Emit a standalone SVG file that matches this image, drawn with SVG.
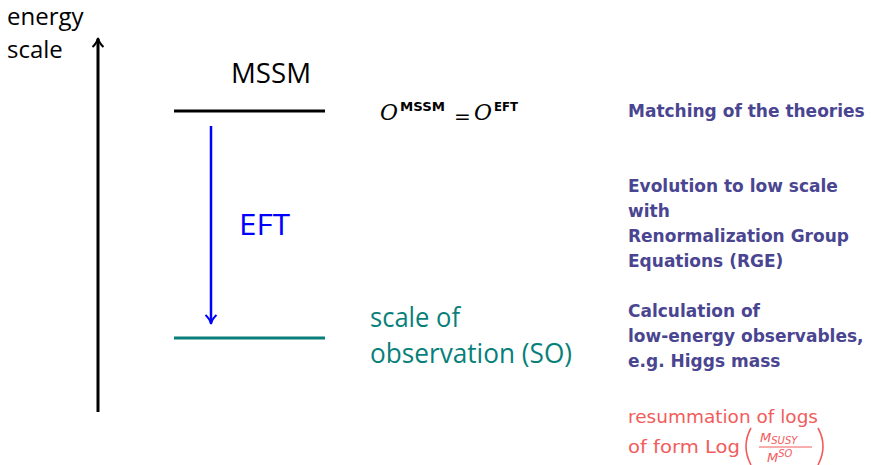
<svg xmlns="http://www.w3.org/2000/svg" width="871" height="465" viewBox="0 0 871 465">
<defs>
<style>
svg{font-family:"Open Sans","Liberation Sans",sans-serif}
.note{font-family:"DejaVu Sans",sans-serif;font-weight:bold;font-size:17px;fill:#4a4590}
.red{font-family:"DejaVu Sans",sans-serif;font-size:18px;fill:#f25c5c}
.teal{fill:#087f7a;font-size:27px}
.sup{font-family:"DejaVu Sans",sans-serif;font-weight:bold;font-size:13px;fill:#000}
.mo{font-family:"DejaVu Serif",serif;font-style:italic;font-size:22px;fill:#000}
.eq{font-family:"DejaVu Sans",sans-serif;font-size:20px;fill:#000}
.frac{font-family:"DejaVu Sans",sans-serif;font-style:italic;font-size:13px;fill:#f25c5c}
</style>
<marker id="ahK" markerWidth="14" markerHeight="14" refX="11" refY="7" orient="auto" markerUnits="userSpaceOnUse" viewBox="0 0 14 14">
<path d="M3,1.5 Q7,6 12,7 Q7,8 3,12.5" fill="none" stroke="#000" stroke-width="2"/>
</marker>
<marker id="ahB" markerWidth="14" markerHeight="14" refX="11" refY="7" orient="auto" markerUnits="userSpaceOnUse" viewBox="0 0 14 14">
<path d="M3,1.5 Q7,6 12,7 Q7,8 3,12.5" fill="none" stroke="#0000ff" stroke-width="2"/>
</marker>
</defs>
<rect width="871" height="465" fill="#fff"/>
<g id="axis">
<text x="7" y="25" font-size="24" fill="#000">energy</text>
<text x="7" y="58" font-size="24" fill="#000">scale</text>
<line x1="98" y1="412" x2="98" y2="39" stroke="#000" stroke-width="3" marker-end="url(#ahK)"/>
</g>
<g id="mssm">
<line x1="174" y1="111" x2="325" y2="111" stroke="#000" stroke-width="3"/>
<text x="231" y="83" font-size="27" textLength="80" lengthAdjust="spacingAndGlyphs" fill="#000">MSSM</text>
</g>
<g id="so">
<line x1="174" y1="338" x2="325" y2="338" stroke="#087f7a" stroke-width="3"/>
<text class="teal" x="370" y="327" textLength="90" lengthAdjust="spacingAndGlyphs">scale of</text>
<text class="teal" x="370" y="363" textLength="202" lengthAdjust="spacingAndGlyphs">observation (SO)</text>
</g>
<g id="connectors">
<line x1="211" y1="126" x2="211" y2="323" stroke="#0000ff" stroke-width="2.5" marker-end="url(#ahB)"/>
<text x="239" y="235" font-size="29" textLength="51" lengthAdjust="spacingAndGlyphs" fill="#0000ff">EFT</text>
</g>
<g id="equation">
<text class="mo" x="380" y="120" textLength="18" lengthAdjust="spacingAndGlyphs">O</text>
<text class="sup" x="400" y="111" textLength="45" lengthAdjust="spacingAndGlyphs">MSSM</text>
<text class="eq" x="454" y="123">=</text>
<text class="mo" x="474" y="120" textLength="18" lengthAdjust="spacingAndGlyphs">O</text>
<text class="sup" x="494" y="111" textLength="24" lengthAdjust="spacingAndGlyphs">EFT</text>
</g>
<g id="notes">
<text class="note" x="628" y="117">Matching of the theories</text>
<text class="note" x="628" y="192">Evolution to low scale</text>
<text class="note" x="628" y="217">with</text>
<text class="note" x="628" y="242">Renormalization Group</text>
<text class="note" x="628" y="267">Equations (RGE)</text>
<text class="note" x="628" y="317">Calculation of</text>
<text class="note" x="628" y="342">low-energy observables,</text>
<text class="note" x="628" y="367">e.g. Higgs mass</text>
</g>
<g id="resum">
<text class="red" x="628" y="423" textLength="190" lengthAdjust="spacingAndGlyphs">resummation of logs</text>
<text class="red" x="628" y="453" textLength="112" lengthAdjust="spacingAndGlyphs">of form Log</text>
<path d="M751,428 Q741,446 751,465" fill="none" stroke="#f25c5c" stroke-width="1.6"/>
<path d="M818,428 Q828,446 818,465" fill="none" stroke="#f25c5c" stroke-width="1.6"/>
<text class="frac" x="760" y="442">M<tspan font-size="10" dy="2">SUSY</tspan></text>
<line x1="759" y1="447" x2="812" y2="447" stroke="#f25c5c" stroke-width="1"/>
<text class="frac" x="767" y="462">M<tspan font-size="10" dy="-5">SO</tspan></text>
</g>
</svg>
